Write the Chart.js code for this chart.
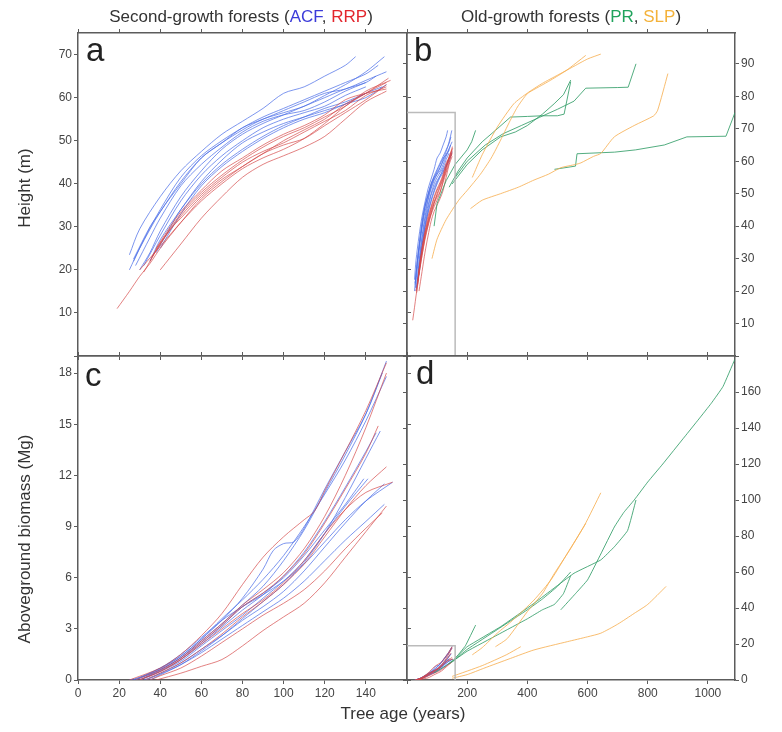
<!DOCTYPE html>
<html>
<head>
<meta charset="utf-8">
<script src="https://cdn.jsdelivr.net/npm/chart.js@4.4.0/dist/chart.umd.min.js"></script>
<style>
  body { margin: 0; background: #fff; }
  #wrap { position: relative; width: 782px; height: 732px; font-family: 'Liberation Sans', Arial, sans-serif; color: #333; }
  canvas { position: absolute; left: 0; top: 0; }
  .t { position: absolute; white-space: nowrap; }
  .title { font-size: 17px; line-height: 18px; top: 8px; transform: translateX(-50%); }
  .letter { font-size: 33px; line-height: 34px; color: #222; }
  .ylab { font-size: 17px; left: 25px; transform: translate(-50%, -50%) rotate(-90deg); }
  .xlab { font-size: 17px; left: 403px; top: 714px; transform: translate(-50%, -50%); }
</style>
</head>
<body>
<div id="wrap">
  <canvas id="pa" width="782" height="732"></canvas>
  <canvas id="pb" width="782" height="732"></canvas>
  <canvas id="pc" width="782" height="732"></canvas>
  <canvas id="pd" width="782" height="732"></canvas>
  <div class="t title" style="left:241px">Second-growth forests (<span style="color:#3b3bd9">ACF</span>, <span style="color:#e3262d">RRP</span>)</div>
  <div class="t title" style="left:571px">Old-growth forests (<span style="color:#1fa35c">PR</span>, <span style="color:#f4b23a">SLP</span>)</div>
  <div class="t letter" style="left:86px;top:33px">a</div>
  <div class="t letter" style="left:414px;top:33px">b</div>
  <div class="t letter" style="left:85px;top:358px">c</div>
  <div class="t letter" style="left:416px;top:356px">d</div>
  <div class="t ylab" style="top:188px">Height (m)</div>
  <div class="t ylab" style="top:539px">Aboveground biomass (Mg)</div>
  <div class="t xlab">Tree age (years)</div>
</div>
<script>
// axis ranges
var youngAgeMax = 160;   // panels a, c
var oldAgeMax = 1090;    // panels b, d
var heightMaxA = 75;
var heightMaxB = 99.5;
var biomassMaxC = 19;
var biomassMaxD = 180;

// tree height (m) by age, [age, height]
var acfHeight = [
  [[25,23.5],[30,29.5],[40,37],[50,43],[60,47.5],[70,51.5],[80,54.5],[90,57.5],[100,61],[110,62.5],[120,65],[130,67.5],[135,69.5]],
  [[25,20],[30,25],[40,33.5],[50,40],[60,46],[70,49.5],[80,52.5],[90,55],[100,56.5],[110,58],[120,60.5],[130,63],[140,66],[149,69.5]],
  [[27,22],[32,27],[40,34],[50,41.5],[60,46.5],[70,50],[80,53],[90,55.5],[100,57.5],[110,59.5],[120,61.5],[130,63.5],[140,65.5],[146,67.5]],
  [[30,20],[35,24],[40,29],[50,37],[60,43],[70,48],[80,51.5],[90,54],[100,56],[110,58],[120,60],[130,62],[140,63.5],[145,65]],
  [[32,21],[40,28],[50,36],[60,42],[70,46.5],[80,50],[90,53],[100,55],[110,56.5],[120,58],[130,60.5],[140,62.5]],
  [[35,22],[40,27],[50,34],[60,40.5],[70,45.5],[80,49.5],[90,52],[100,54],[110,55.5],[120,57],[130,58.5],[140,61],[148,62.5]],
  [[28,21],[35,27.5],[40,32],[50,39.5],[60,44.5],[70,48.5],[80,52],[90,54.5],[100,56],[110,57],[120,59],[130,61.5],[140,63.5]],
  [[38,24],[45,30],[50,34],[60,40],[70,44.5],[80,48],[90,51],[100,53.5],[110,55.5],[120,57.5],[130,59],[140,61]],
  [[40,25],[50,33],[60,39.5],[70,44],[80,47.5],[90,50.5],[100,53],[110,55],[120,56.5],[130,58.5],[140,60],[150,63]],
  [[27,22.5],[35,30],[40,33.5],[50,40.5],[60,46],[70,49.5],[80,53],[90,55],[100,57],[110,59],[120,61],[130,62],[140,64],[150,66]]
];
var rrpHeight = [
  [[19,11],[25,15],[30,18.5],[35,21.5],[40,25],[50,31],[60,36.5],[70,40.5],[80,44],[90,47],[100,49],[110,50.5],[120,53.5],[130,56.5],[140,59.5],[150,63]],
  [[30,20],[40,25.5],[50,31],[60,36],[70,40],[80,43.5],[90,46],[100,48],[110,50.5],[120,54],[130,58],[140,61],[150,63.5]],
  [[32,19.5],[40,26],[50,33],[60,38],[70,42],[80,45.5],[90,48.5],[100,51],[110,53],[120,55.5],[130,58],[140,61.5],[152,64]],
  [[35,22],[40,26.5],[50,33.5],[60,38.5],[70,43],[80,46],[90,49],[100,51.5],[110,53.5],[120,56],[130,59.5],[140,61],[150,62]],
  [[40,20],[50,26],[60,32],[70,37],[80,41.5],[90,44.5],[100,46.5],[110,48.5],[120,51],[130,55],[140,59],[150,61.5]],
  [[36,23],[40,26],[50,32.5],[60,37.5],[70,41.5],[80,45],[90,47.5],[100,49.5],[110,52],[120,54.5],[130,57],[140,60.5],[150,62.5]],
  [[38,25],[45,29.5],[50,32],[60,37],[70,41],[80,44],[90,47],[100,50],[110,52.5],[120,55],[130,58.5],[140,61],[151,64.5]]
];
var prHeight = [
  [[90,40],[100,47],[130,54],[160,59],[200,63.5],[215,66],[228,69.5]],
  [[140,52],[170,57],[200,61],[250,66],[300,70],[344,73.6],[400,73.8],[450,74],[500,74],[522,74.5],[544,84.5]],
  [[150,53],[200,59],[250,63.5],[311,67.5],[360,69],[400,71],[450,74.5],[489,77.7],[520,80.5],[544,85]],
  [[160,55],[200,60],[260,65],[320,68.5],[380,71],[440,73.5],[500,76],[555,78.5],[594,82.5],[700,82.7],[735,82.8],[761,90]],
  [[490,57.5],[560,58.5],[565,62.3],[690,62.8],[760,63.5],[855,65],[930,67.5],[1060,67.7],[1090,75]]
];
var slpHeight = [
  [[83,30],[100,36],[130,42],[172,48],[200,51],[244,56],[280,61],[311,66.5],[340,72],[367,76.7],[400,80.8],[440,83],[478,85],[530,88],[594,92.6]],
  [[217,55],[250,62],[300,70.5],[355,77.7],[400,81],[450,84],[500,86.5],[550,89],[600,91.5],[644,93]],
  [[211,45.4],[250,48],[311,50],[370,52],[422,54.2],[470,56],[511,58],[560,59],[578,59.5],[620,61.5],[644,62.4],[689,67.5],[755,71],[820,74],[833,75.7],[867,87]]
];

// aboveground biomass (Mg) by age, [age, biomass]
var acfBiomass = [
  [[25,0],[30,0.15],[40,0.6],[50,1.3],[60,2.3],[70,3.3],[80,4.4],[90,5.5],[100,7.0],[110,8.8],[120,11.0],[130,13.2],[140,15.6],[150,18.7]],
  [[28,0],[40,0.7],[50,1.4],[60,2.4],[70,3.5],[80,4.8],[90,6.5],[95,7.6],[100,8.0],[105,8.1],[110,8.9],[120,11.2],[130,13.4],[140,15.6],[148,18]],
  [[30,0],[40,0.6],[50,1.3],[60,2.2],[70,3.2],[80,4.3],[90,5.1],[100,6.0],[110,7.3],[120,8.8],[130,10.3],[139,11.8]],
  [[30,0],[40,0.5],[50,1.1],[60,2.0],[70,2.9],[80,3.8],[90,4.8],[100,5.8],[110,7.0],[120,8.6],[130,10.2],[141,11.8]],
  [[32,0],[40,0.4],[50,1.0],[60,1.8],[70,2.6],[80,3.5],[90,4.3],[100,5.2],[110,6.4],[120,7.8],[130,9.2],[140,10.5],[149,11.5]],
  [[33,0],[40,0.35],[50,0.9],[60,1.6],[70,2.4],[80,3.2],[90,4.0],[100,4.8],[110,5.8],[120,7.0],[130,8.2],[140,9.3],[149,10.3]],
  [[30,0],[40,0.55],[50,1.2],[60,2.1],[70,3.1],[80,4.1],[90,5.0],[100,6.1],[110,7.5],[120,9.3],[130,11.3],[140,13.4],[145,14.5]],
  [[27,0],[40,0.7],[50,1.5],[60,2.5],[70,3.5],[80,4.3],[90,5.0],[100,5.8],[110,6.8],[120,8.1],[130,9.4],[140,10.5],[153,11.6]],
  [[35,0],[40,0.3],[50,0.9],[60,1.7],[70,2.6],[80,3.6],[90,4.6],[100,5.6],[110,6.9],[120,8.6],[130,10.7],[140,13.0],[147,14.6]],
  [[28,0],[40,0.65],[50,1.4],[60,2.4],[70,3.6],[80,4.7],[90,5.9],[100,7.3],[110,9.0],[120,10.9],[130,12.9],[140,15.2],[150,17.8]]
];
var rrpBiomass = [
  [[25,0],[40,0.7],[50,1.5],[60,2.6],[70,3.9],[80,5.6],[90,7.2],[100,8.4],[110,9.4],[115,9.9],[120,11.1],[130,13.4],[140,15.8],[150,18.6]],
  [[30,0],[40,0.5],[50,1.2],[60,2.2],[70,3.2],[80,4.3],[90,5.1],[100,6.1],[110,7.4],[120,9.2],[130,11.2],[140,13.3],[146,14.9]],
  [[33,0],[40,0.4],[50,1.0],[60,1.8],[70,2.7],[80,3.7],[90,4.6],[100,5.6],[110,6.8],[120,8.4],[130,10.0],[140,11.4],[150,12.5]],
  [[35,0],[40,0.25],[50,0.7],[60,1.4],[70,2.2],[80,3.0],[90,3.8],[100,4.5],[110,5.3],[120,6.4],[130,7.7],[140,8.9],[148,9.8]],
  [[38,0],[50,0.4],[60,0.8],[70,1.2],[80,2.0],[90,2.9],[100,3.7],[110,4.5],[120,5.7],[130,7.2],[140,8.7],[150,10.2]],
  [[30,0],[40,0.5],[50,1.2],[60,2.1],[70,3.0],[80,3.9],[90,4.7],[100,5.7],[110,7.0],[120,8.6],[130,10.0],[140,11.0],[153,11.6]],
  [[28,0],[40,0.6],[50,1.3],[60,2.3],[70,3.3],[80,4.4],[90,5.3],[100,6.3],[110,7.7],[120,9.6],[130,12.0],[140,14.8],[150,18.0]]
];
var prBiomass = [
  [[90,4],[130,8],[160,12],[194,19],[228,30.5]],
  [[140,9],[200,16],[300,25],[400,34],[450,39],[490,42],[520,48],[544,58]],
  [[150,10],[200,17],[300,28],[400,39],[450,45],[500,52],[544,60]],
  [[160,12],[200,18.5],[311,29.6],[422,42.6],[555,59.3],[644,66.7],[689,74],[733,83],[761,100]],
  [[511,39],[560,48],[600,55.6],[644,70],[689,85],[720,93],[755,100],[800,110],[850,120],[922,135],[970,145],[1011,153.7],[1050,163],[1089,178]]
];
var slpBiomass = [
  [[294,18.5],[333,23],[400,38],[450,48],[489,59],[540,72],[594,87]],
  [[217,14],[250,18],[300,26],[350,33],[422,44.4],[480,56],[533,70.4],[590,86],[644,104]],
  [[150,1],[200,3],[255,6.5],[344,12],[422,16.7],[533,21.3],[600,24],[644,26],[700,31],[755,37],[800,42],[861,52]],
  [[150,2],[250,8],[330,14],[378,18.5]]
];

var acfColor = 'rgba(75,110,232,0.72)';
var rrpColor = 'rgba(212,70,70,0.68)';
var prColor = 'rgba(45,155,100,0.82)';
var slpColor = 'rgba(247,175,80,0.82)';
var boxColor = 'rgba(180,180,180,0.9)';
var fontFam = "'Liberation Sans', Arial, sans-serif";

function lines(group, color, tension) {
  return group.map(function (pairs) {
    return {
      data: pairs.map(function (p) { return { x: p[0], y: p[1] }; }),
      borderColor: color, borderWidth: 1, pointRadius: 0,
      tension: tension, fill: false
    };
  });
}

// outline of the a / c range inside b / d
function insetBox(yMax) {
  return {
    data: [{ x: 0, y: yMax }, { x: youngAgeMax, y: yMax }, { x: youngAgeMax, y: 0 }],
    borderColor: boxColor, borderWidth: 1.5, pointRadius: 0, tension: 0, fill: false
  };
}

function axis(pos, min, max, step, size, showLabels, hidden) {
  return {
    type: 'linear', position: pos, min: min, max: max,
    border: { display: true, color: '#5c5c5c', width: 1.5 },
    grid: { drawOnChartArea: false, drawTicks: true, tickLength: 4, color: '#5c5c5c', lineWidth: 1 },
    ticks: {
      display: showLabels, stepSize: step, includeBounds: false, autoSkip: false, maxRotation: 0,
      padding: 2, color: '#444', font: { family: fontFam, size: 12 },
      callback: function (v) { return hidden.indexOf(v) >= 0 ? '' : v; }
    },
    afterFit: function (s) {
      if (pos === 'left' || pos === 'right') s.width = size; else s.height = size;
    }
  };
}

function panel(id, datasets, padding, scales) {
  new Chart(document.getElementById(id), {
    type: 'line',
    data: { datasets: datasets },
    options: {
      responsive: false, animation: false,
      layout: { padding: padding },
      plugins: { legend: { display: false }, tooltip: { enabled: false } },
      scales: scales
    }
  });
}

// a: height, second growth
panel('pa',
  lines(rrpHeight, rrpColor, 0.3).concat(lines(acfHeight, acfColor, 0.3)),
  { left: 38, right: 369, top: 27, bottom: 370 },
  {
    x: axis('bottom', 0, youngAgeMax, 20, 6, false, []),
    x2: axis('top', 0, youngAgeMax, 20, 6, false, []),
    y: axis('left', 0, heightMaxA, 10, 40, true, [0]),
    y2: axis('right', 0, heightMaxA, 10, 6, false, [])
  });

// b: height, old growth
panel('pb',
  [insetBox(heightMaxA)].concat(lines(slpHeight, slpColor, 0.2), lines(prHeight, prColor, 0),
    lines(rrpHeight, rrpColor, 0.3), lines(acfHeight, acfColor, 0.3)),
  { left: 401, right: 7, top: 27, bottom: 370 },
  {
    x: axis('bottom', 0, oldAgeMax, 200, 6, false, []),
    x2: axis('top', 0, oldAgeMax, 200, 6, false, []),
    y: axis('right', 0, heightMaxB, 10, 40, true, [0]),
    y2: axis('left', 0, heightMaxB, 10, 6, false, [])
  });

// c: biomass, second growth
panel('pc',
  lines(rrpBiomass, rrpColor, 0.3).concat(lines(acfBiomass, acfColor, 0.3)),
  { left: 38, right: 369, top: 350, bottom: 12 },
  {
    x: axis('bottom', 0, youngAgeMax, 20, 40, true, [160]),
    x2: axis('top', 0, youngAgeMax, 20, 6, false, []),
    y: axis('left', 0, biomassMaxC, 3, 40, true, []),
    y2: axis('right', 0, biomassMaxC, 3, 6, false, [])
  });

// d: biomass, old growth
panel('pd',
  [insetBox(biomassMaxC)].concat(lines(slpBiomass, slpColor, 0.2), lines(prBiomass, prColor, 0.1),
    lines(rrpBiomass, rrpColor, 0.3), lines(acfBiomass, acfColor, 0.3)),
  { left: 401, right: 7, top: 350, bottom: 12 },
  {
    x: axis('bottom', 0, oldAgeMax, 200, 40, true, [0]),
    x2: axis('top', 0, oldAgeMax, 200, 6, false, []),
    y: axis('right', 0, biomassMaxD, 20, 40, true, [180]),
    y2: axis('left', 0, biomassMaxD, 20, 6, false, [])
  });
</script>
</body>
</html>
